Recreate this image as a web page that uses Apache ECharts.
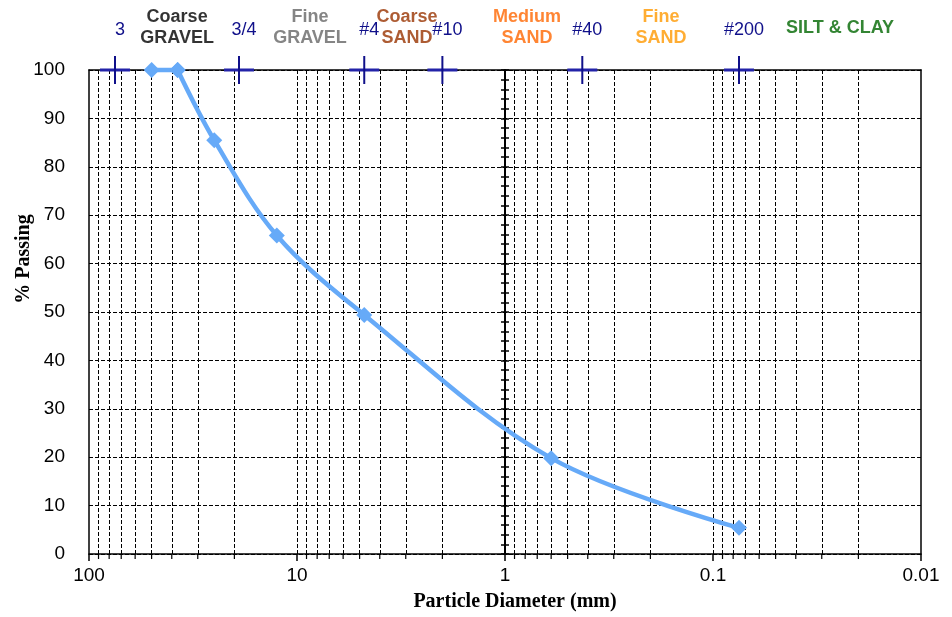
<!DOCTYPE html>
<html>
<head>
<meta charset="utf-8">
<script src="https://cdn.jsdelivr.net/npm/echarts@6/dist/echarts.min.js"></script>
<style>html,body{margin:0;padding:0;background:#fff}#c{width:952px;height:617px}</style>
</head>
<body>
<div id="c"></div>
<script>
// ---- data ----
const particleSizes = [50, 37.5, 25, 12.5, 4.75, 0.6, 0.075];
const percentPassing = [100, 100, 85.5, 65.8, 49.4, 19.8, 5.4];
const sieveSizes = [75, 19, 4.75, 2.0, 0.425, 0.075];
const sieveLabels = ['3', '3/4', '#4', '#10', '#40', '#200'];
const zoneLabels = ['Coarse\nGRAVEL', 'Fine\nGRAVEL', 'Coarse\nSAND', 'Medium\nSAND', 'Fine\nSAND', 'SILT & CLAY'];
const zoneCenters = [37.7, 8.66, 2.96, 0.784, 0.178, 0.0245];
const xTickValues = [100, 10, 1, 0.1, 0.01];
const xTickLabels = ['100', '10', '1', '0.1', '0.01'];
const yTickLabels = ['0','10','20','30','40','50','60','70','80','90','100'];
const minorMultipliers = [2, 3, 4, 5, 6, 7, 8, 9];

// ---- styles ----
const zoneColors = ['#000000', '#666666', '#993300', '#ff6600', '#ff9900', '#006600'];
const sieveColor = '#10108a';
const sieveArmColor = '#2323a8';
const curveColor = '#66aaf8';

const W = 952, H = 617;
const G = { left: 89, right: 31, top: 70, bottom: 63 };
const xMin = 0.01, xMax = 100;
// pixel x of value 1 on the inverted log axis (for the crossing vertical axis)
const plotW = W - G.left - G.right;
const frac1 = (Math.log10(xMax) - Math.log10(1)) / (Math.log10(xMax) - Math.log10(xMin));
const axisAt1 = G.left + plotW * frac1;

const minorVals = [];
[10, 1, 0.1, 0.01].forEach(d => minorMultipliers.forEach(m => minorVals.push(+(d * m).toPrecision(3))));
const gridLineVals = minorVals.concat([10, 0.1]);

const dash = [4, 2];
const points = particleSizes.map((s, i) => [s, percentPassing[i]]);
// the plateau part is drawn straight, the rest as a smooth curve
const plateauEnd = percentPassing.lastIndexOf(100);

const borderAxis = (extra) => Object.assign({
  min: 0, max: 100, axisLine: { show: true, onZero: false, lineStyle: { color: '#000', width: 1.5 } },
  axisTick: { show: false }, axisLabel: { show: false }, splitLine: { show: false }
}, extra);

const chart = echarts.init(document.getElementById('c'), null, { renderer: 'canvas' });
chart.setOption({
  animation: false,
  backgroundColor: '#fff',
  grid: [
    Object.assign({ show: false, outerBoundsMode: 'none', containLabel: false }, G),
    { left: axisAt1, right: G.right, top: G.top, bottom: G.bottom, show: false, outerBoundsMode: 'none', containLabel: false }
  ],
  xAxis: [{
    type: 'log', logBase: 10, min: xMin, max: xMax, inverse: true, gridIndex: 0, position: 'bottom',
    name: 'Particle Diameter (mm)', nameLocation: 'middle', nameGap: 38, nameMoveOverlap: false,
    nameTextStyle: { fontFamily: 'Liberation Serif', fontWeight: 'bold', fontSize: 20, color: '#000', padding: [0, 0, 0, 20] },
    axisLine: { onZero: false, lineStyle: { color: '#000', width: 1.5 } },
    axisTick: { show: true, length: 7, inside: false, lineStyle: { color: '#000', width: 1.5 } },
    axisLabel: { fontFamily: 'Liberation Sans', fontSize: 19, color: '#000', margin: 12,
      formatter: v => { const i = xTickValues.findIndex(t => Math.abs(Math.log10(t) - Math.log10(v)) < 1e-6); return i >= 0 ? xTickLabels[i] : ''; } },
    splitLine: { show: false },
    minorTick: { show: false }
  }, {
    type: 'value', gridIndex: 1, min: 0, max: 1, show: false
  },
  borderAxis({ type: 'value', gridIndex: 0, position: 'top' })],
  yAxis: [{
    type: 'value', min: 0, max: 100, interval: 10, gridIndex: 0, position: 'left',
    name: '% Passing', nameLocation: 'middle', nameGap: 55, nameRotate: 90, nameMoveOverlap: false,
    nameTextStyle: { fontFamily: 'Liberation Serif', fontWeight: 'bold', fontSize: 20, color: '#000', padding: [0, 0, 0, 106] },
    axisLine: { show: true, onZero: false, lineStyle: { color: '#000', width: 1.5 } },
    axisTick: { show: false },
    axisLabel: { fontFamily: 'Liberation Sans', fontSize: 19, color: '#000', margin: 24,
      formatter: v => yTickLabels[Math.round(v / 10)] },
    splitLine: { show: true, lineStyle: { color: '#000', type: dash, width: 1 } }
  }, {
    type: 'value', min: 0, max: 100, interval: 10, gridIndex: 1, position: 'left', offset: 0,
    axisLine: { show: true, onZero: false, lineStyle: { color: '#000', width: 2 } },
    axisTick: { show: true, inside: true, length: 4, lineStyle: { color: '#000', width: 1.5 } },
    minorTick: { show: true, splitNumber: 5, length: 4, lineStyle: { color: '#000', width: 1.5 } },
    axisLabel: { show: false }, splitLine: { show: false }
  }, {
    type: 'value', min: 0, max: 100, interval: 10, gridIndex: 1, position: 'left', offset: 0,
    axisLine: { show: false, onZero: false },
    axisTick: { show: true, inside: false, length: 4, lineStyle: { color: '#000', width: 1.5 } },
    minorTick: { show: true, splitNumber: 5, length: 4, lineStyle: { color: '#000', width: 1.5 } },
    axisLabel: { show: false }, splitLine: { show: false }
  },
  borderAxis({ type: 'value', gridIndex: 0, position: 'right' })],
  series: [
    {
      // vertical log grid lines
      type: 'line', xAxisIndex: 0, yAxisIndex: 0, data: [], silent: true,
      markLine: {
        silent: true, symbol: 'none', animation: false,
        label: { show: false },
        lineStyle: { color: '#000', type: dash, width: 1 },
        data: gridLineVals.map(v => ({ xAxis: v }))
      }
    },
    {
      // minor ticks below the x axis
      type: 'custom', xAxisIndex: 0, yAxisIndex: 0, clip: false, silent: true,
      data: minorVals.map(v => [v, 0]),
      renderItem: (params, api) => {
        const p = api.coord([api.value(0), api.value(1)]);
        return { type: 'line', shape: { x1: p[0], y1: p[1], x2: p[0], y2: p[1] + 5 },
          style: { stroke: '#000', lineWidth: 1.2 } };
      },
      z: 4
    },
    {
      name: 'Gradation', type: 'line', xAxisIndex: 0, yAxisIndex: 0,
      data: points.slice(0, plateauEnd + 1),
      smooth: false, clip: false,
      symbol: 'diamond', symbolSize: 16,
      lineStyle: { color: curveColor, width: 4.5 },
      itemStyle: { color: curveColor },
      zlevel: 1, z: 5
    },
    {
      name: 'Gradation', type: 'line', xAxisIndex: 0, yAxisIndex: 0,
      data: points.slice(plateauEnd),
      smooth: 0.35, clip: false,
      symbol: 'diamond', symbolSize: 16,
      lineStyle: { color: curveColor, width: 4.5 },
      itemStyle: { color: curveColor },
      zlevel: 1, z: 5
    },
    {
      // sieve markers: crosses at 100 %, drawn over the top border
      name: 'Sieves', type: 'custom', xAxisIndex: 0, yAxisIndex: 0, clip: false, silent: true,
      data: sieveSizes.map((s, i) => [s, 100, i]),
      renderItem: (params, api) => {
        const p = api.coord([api.value(0), api.value(1)]);
        return { type: 'group', children: [
          { type: 'line', shape: { x1: p[0] - 15, y1: p[1], x2: p[0] + 15, y2: p[1] }, style: { stroke: sieveArmColor, lineWidth: 3 } },
          { type: 'line', shape: { x1: p[0], y1: p[1] - 14, x2: p[0], y2: p[1] + 14 }, style: { stroke: sieveColor, lineWidth: 2 } },
          { type: 'text', x: p[0] + 5, y: p[1] - 40,
            style: { text: sieveLabels[api.value(2)], fill: sieveColor, font: '18px "Liberation Sans"', align: 'center', verticalAlign: 'middle' } }
        ] };
      },
      zlevel: 1, z: 4
    },
    {
      name: 'Zones', type: 'scatter', xAxisIndex: 0, yAxisIndex: 0, clip: false,
      data: zoneCenters.map((c, i) => ({ value: [c, 100], name: zoneLabels[i],
        label: { color: zoneColors[i] } })),
      symbolSize: 0,
      label: { show: true, position: 'inside', offset: [0, -42], formatter: p => p.name,
        fontFamily: 'Liberation Sans', fontWeight: 'bold', fontSize: 18, lineHeight: 21, align: 'center' },
      zlevel: 1, z: 6
    }
  ]
});
</script>
</body>
</html>
